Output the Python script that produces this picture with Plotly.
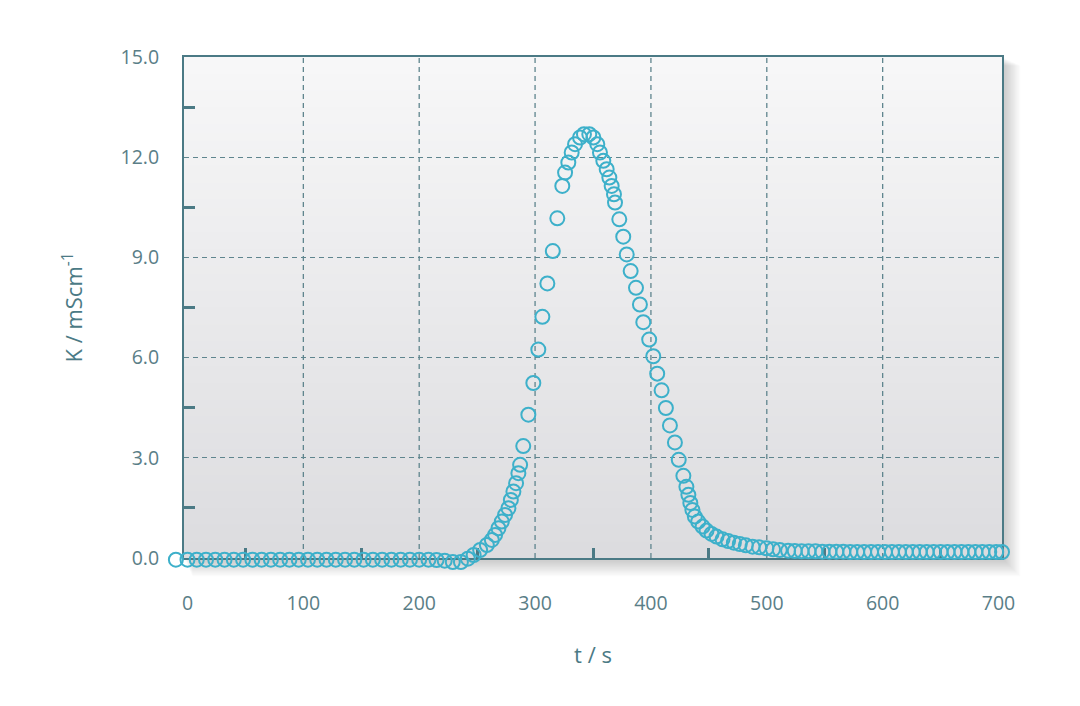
import plotly.graph_objects as go

# time (s) and conductivity (mS/cm)
t_s = [-10, 0, 8, 16, 24, 32, 40, 48, 56, 64, 72, 80, 88, 96, 104, 112, 120,
       128, 136, 144, 152, 160, 168, 176, 184, 192, 200, 208, 215, 222, 229,
       236, 242, 247, 252.6, 258.4, 262.7, 265.5, 268.4, 271.3, 274.1, 277,
       279.1, 281.3, 283.6, 285.6, 287.1, 289.8, 294.2, 298.5, 302.8, 306.3,
       310.6, 315.3, 319.2, 323.5, 325.9, 328.7, 331.6, 334.5, 338.8, 342.2,
       346.8, 350.3, 353.7, 356, 358.9, 361.8, 364.1, 366.1, 368.1, 369,
       372.7, 376.1, 379.1, 382.5, 387.1, 390.5, 393.4, 398.5, 402, 405.4,
       409.2, 412.9, 416.4, 420.7, 424, 428, 430.6, 432.3, 434, 435.8, 437.9,
       440.8, 444.6, 448, 452.3, 456.6, 461.8, 466.6, 471.6, 476.7, 481.9,
       487.7, 493.4, 499.7, 505.4, 511.2, 518.4, 524.1, 530, 536, 542, 548,
       554, 560, 566, 572, 578, 584, 590, 596, 602, 608, 614, 620, 626, 632,
       638, 644, 650, 656, 662, 668, 674, 680, 686, 692, 698, 703]
k_mscm = [-0.05, -0.05, -0.05, -0.05, -0.05, -0.05, -0.05, -0.05, -0.05,
          -0.05, -0.05, -0.05, -0.05, -0.05, -0.05, -0.05, -0.05, -0.05,
          -0.05, -0.05, -0.05, -0.05, -0.05, -0.05, -0.05, -0.05, -0.05,
          -0.05, -0.06, -0.08, -0.12, -0.12, -0.02, 0.09, 0.24, 0.39, 0.54,
          0.69, 0.89, 1.09, 1.29, 1.49, 1.74, 1.99, 2.24, 2.54, 2.79, 3.35,
          4.29, 5.24, 6.24, 7.22, 8.22, 9.19, 10.17, 11.14, 11.54, 11.84,
          12.14, 12.39, 12.59, 12.69, 12.69, 12.59, 12.39, 12.14, 11.89, 11.64,
          11.39, 11.14, 10.89, 10.64, 10.14, 9.62, 9.09, 8.59, 8.09, 7.59,
          7.06, 6.54, 6.04, 5.52, 5.02, 4.49, 3.97, 3.46, 2.94, 2.46, 2.13,
          1.89, 1.65, 1.44, 1.24, 1.09, 0.94, 0.82, 0.72, 0.64, 0.56, 0.51,
          0.46, 0.42, 0.38, 0.34, 0.32, 0.29, 0.26, 0.24, 0.22, 0.21, 0.2,
          0.2, 0.2, 0.19, 0.19, 0.19, 0.19, 0.18, 0.18, 0.18, 0.18, 0.18,
          0.18, 0.18, 0.18, 0.18, 0.18, 0.18, 0.18, 0.18, 0.18, 0.18, 0.18,
          0.18, 0.18, 0.18, 0.18, 0.18, 0.18, 0.18]

x_ticks = [0, 100, 200, 300, 400, 500, 600, 700]
x_minor = [50, 150, 250, 350, 450, 550, 650]
y_ticks = [0, 3, 6, 9, 12, 15]
y_minor = [1.5, 4.5, 7.5, 10.5, 13.5]
x_range = [-3, 703]
y_range = [0, 15]

FRAME = '#4b7a85'
GRID = '#5f858e'
LABEL = '#5a7e87'
MARK = '#3db0ca'

W, H = 1080, 706
ML, MR, MT, MB = 120, 40, 20, 100
# frame of the plot area in page pixels
FL, FR, FT, FB = 184, 1002, 57, 558

pw, ph = W - ML - MR, H - MT - MB
x_dom = [(FL - ML) / pw, (FR - ML) / pw]
y_dom = [(H - MB - FB) / ph, (H - MB - FT) / ph]

# a second, invisible axis pair spanning the whole plotting region with the
# same scale, so markers just outside the frame are still drawn
sx = (x_range[1] - x_range[0]) / (FR - FL)
sy = (y_range[1] - y_range[0]) / (FB - FT)
x2_range = [x_range[0] - (FL - ML) * sx, x_range[1] + (W - MR - FR) * sx]
y2_range = [y_range[0] - (H - MB - FB) * sy, y_range[1] + (FT - MT) * sy]

fig = go.Figure()
# empty trace so the framed axes get drawn
fig.add_trace(go.Scatter(x=[None], y=[None], mode='markers',
                         showlegend=False, hoverinfo='skip'))
fig.add_trace(go.Scatter(
    x=t_s, y=k_mscm, mode='markers', xaxis='x2', yaxis='y2',
    marker=dict(symbol='circle-open', size=14, color=MARK,
                line=dict(width=2, color=MARK)),
    showlegend=False,
))

shapes = []
# soft drop shadow to the right / bottom of the plot area
fw, fh = FR - FL, FB - FT
for i in range(1, 15):
    shapes.append(dict(
        type='rect', xref='x domain', yref='y domain', layer='below',
        x0=i * 0.6 / fw, x1=1 + i * 1.3 / fw, y0=-i * 1.3 / fh, y1=1 - i * 0.6 / fh,
        line=dict(width=0), fillcolor='rgba(90,90,95,0.024)'))
# vertical grey gradient inside the plot area
n_bands = 60
top = (247, 247, 248)
bot = (220, 220, 223)
for i in range(n_bands):
    f = i / (n_bands - 1)
    c = tuple(round(bot[j] + (top[j] - bot[j]) * f) for j in range(3))
    shapes.append(dict(
        type='rect', xref='x domain', yref='y domain', layer='below',
        x0=0, x1=1, y0=i / n_bands, y1=(i + 1) / n_bands + 0.002,
        line=dict(width=0), fillcolor='rgb(%d,%d,%d)' % c))
# vertical dashed grid (inner ticks only, none next to the frame)
for v in x_ticks[1:-1]:
    shapes.append(dict(
        type='line', xref='x', yref='y domain', layer='below',
        x0=v, x1=v, y0=0, y1=1,
        line=dict(color=GRID, width=1.3, dash='5px,4px')))

font = dict(family='Open Sans, Lato, sans-serif', size=19.5, color=LABEL)
title_font = dict(family='Open Sans, sans-serif', size=22, color=FRAME)

fig.update_layout(
    width=W, height=H,
    margin=dict(l=ML, r=MR, t=MT, b=MB),
    paper_bgcolor='white', plot_bgcolor='rgba(0,0,0,0)',
    font=font,
    shapes=shapes,
    xaxis=dict(
        domain=x_dom, range=x_range, tickvals=x_ticks,
        ticktext=[str(v) for v in x_ticks],
        showgrid=False,
        showline=True, mirror=True, linecolor=FRAME, linewidth=2,
        zeroline=False, ticks='', ticklabelstandoff=27, automargin=False,
        minor=dict(tickvals=x_minor, ticks='inside', ticklen=10, tickwidth=2.5,
                   tickcolor=FRAME, showgrid=False),
        title=dict(text='t / s', standoff=32, font=title_font),
    ),
    yaxis=dict(
        domain=y_dom, range=y_range, tickvals=y_ticks,
        ticktext=['%.1f' % v for v in y_ticks],
        showgrid=True, gridcolor=GRID, griddash='5px,4px', gridwidth=1.3,
        showline=True, mirror=True, linecolor=FRAME, linewidth=2,
        zeroline=False, ticks='', ticklabelstandoff=19, automargin=False,
        minor=dict(tickvals=y_minor, ticks='inside', ticklen=11, tickwidth=2.5,
                   tickcolor=FRAME, showgrid=False),
        title=dict(text='K / mScm<sup>-1</sup>', standoff=32, font=title_font),
    ),
    xaxis2=dict(domain=[0, 1], range=x2_range, visible=False, anchor='y2'),
    yaxis2=dict(domain=[0, 1], range=y2_range, visible=False, anchor='x2'),
)

fig.write_html("out.html", config={'displayModeBar': False},
               post_script="document.body.style.margin='0';")
